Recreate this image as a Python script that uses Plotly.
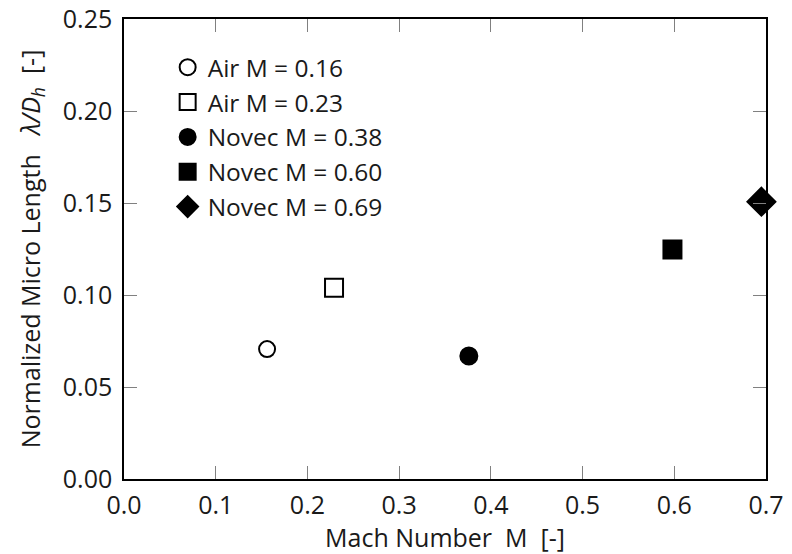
import plotly.graph_objects as go

series_names = ["Air M = 0.16", "Air M = 0.23", "Novec M = 0.38", "Novec M = 0.60", "Novec M = 0.69"]
mach = [0.156, 0.229, 0.376, 0.598, 0.695]
lam_dh = [0.0706, 0.1039, 0.0668, 0.1247, 0.1507]
symbols = ["circle-open", "square-open", "circle", "square", "diamond"]
sizes = [16, 18, 17, 18, 21.5]

x_ticks = [0.0, 0.1, 0.2, 0.3, 0.4, 0.5, 0.6, 0.7]
y_ticks = [0.00, 0.05, 0.10, 0.15, 0.20, 0.25]

FONT = "Open Sans"
TXT = "#1a1a1a"
fig = go.Figure()
for name, xv, yv, sym, sz in zip(series_names, mach, lam_dh, symbols, sizes):
    fig.add_trace(go.Scatter(
        x=[xv], y=[yv], mode="markers", name=name,
        marker=dict(symbol=sym, size=sz, color="black",
                    line=dict(color="black", width=2)),
        cliponaxis=False,
    ))

axis_common = dict(
    showgrid=False, zeroline=False, showline=True, linecolor="black", linewidth=1.5,
    mirror="ticks", ticks="inside", ticklen=13, tickcolor="#808080", tickwidth=1,
    tickfont=dict(family=FONT, size=25, color=TXT), automargin=False,
)
fig.update_xaxes(range=[0, 0.7], tickvals=x_ticks, ticktext=[f"{v:.1f}" for v in x_ticks],
                 title=dict(text="Mach Number\u00a0\u00a0M\u00a0\u00a0[-]", standoff=2,
                            font=dict(family=FONT, size=25, color=TXT)),
                 ticklabelstandoff=3, **axis_common)
fig.update_yaxes(range=[0, 0.25], tickvals=y_ticks, ticktext=[f"{v:.2f}" for v in y_ticks],
                 title=dict(text="Normalized Micro Length\u00a0\u00a0\u00a0<i>\u03bb/D<sub>h</sub></i>\u00a0\u00a0[-]",
                            standoff=15, font=dict(family=FONT, size=25, color=TXT)),
                 ticklabelstandoff=5, **axis_common)

fig.update_layout(
    width=792, height=554,
    margin=dict(l=124, r=26, t=19, b=75),
    plot_bgcolor="white", paper_bgcolor="white",
    font=dict(family=FONT, size=25, color=TXT),
    showlegend=True,
    legend=dict(x=0.068, y=0.944, xanchor="left", yanchor="top",
                bgcolor="rgba(0,0,0,0)", font=dict(family=FONT, size=24.5, color=TXT),
                itemsizing="trace"),
)
fig.write_html("out.html")
